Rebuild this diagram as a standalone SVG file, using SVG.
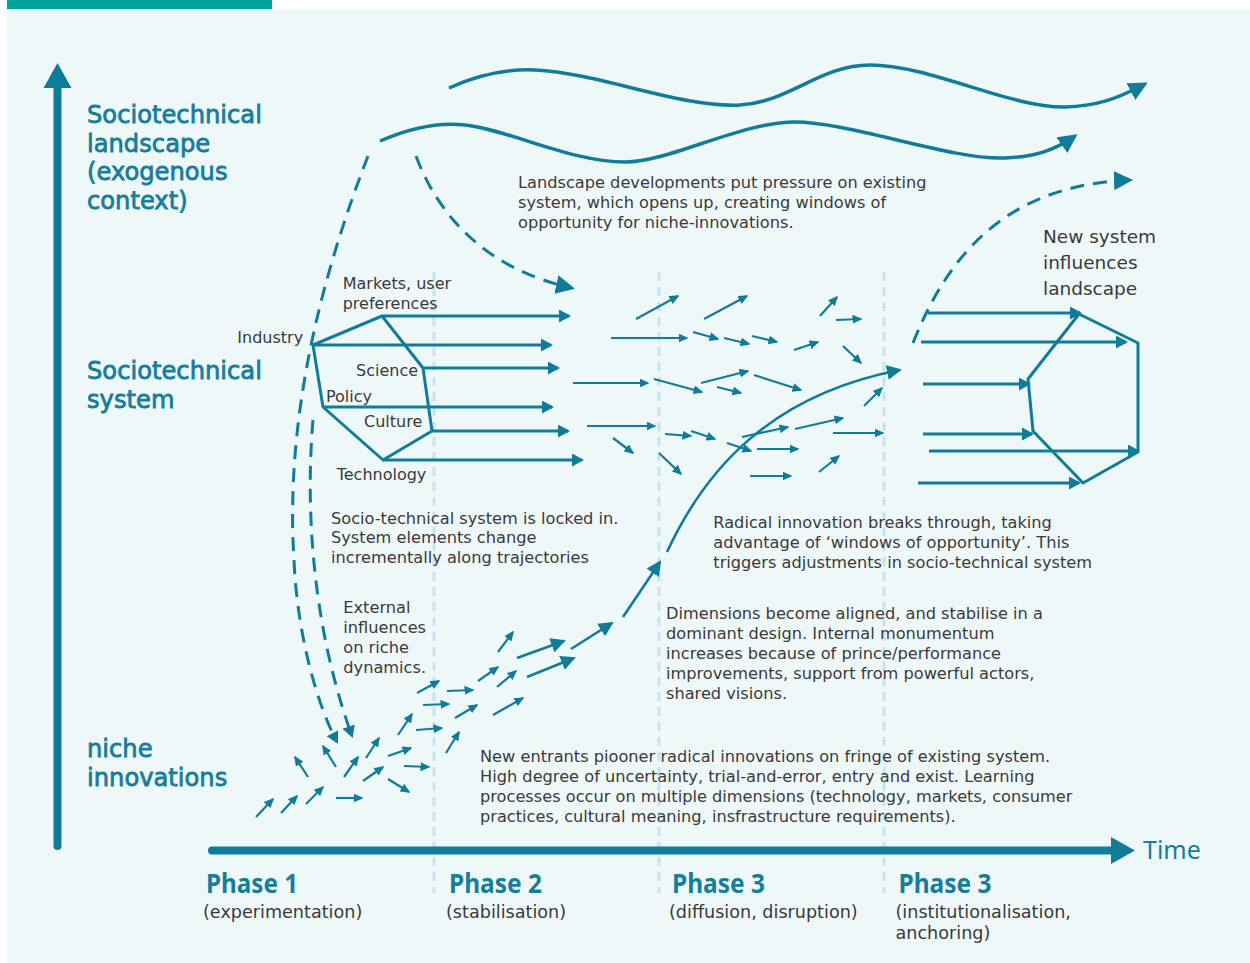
<svg xmlns="http://www.w3.org/2000/svg" width="1250" height="963" viewBox="0 0 1250 963">
<style>
.txt{font-family:"DejaVu Sans","Noto Sans",sans-serif;font-size:16.2px;fill:#3a3a3a}
.lbl{font-family:"DejaVu Sans","Noto Sans",sans-serif;font-size:16px;fill:#3a3a3a}
.big{font-family:"DejaVu Sans","Noto Sans",sans-serif;font-size:18.5px;fill:#3a3a3a}
.ttl{font-family:"DejaVu Sans","Noto Sans",sans-serif;font-size:24.2px;fill:#167d9b;stroke:#167d9b;stroke-width:0.8}
.ph{font-family:"Noto Sans","DejaVu Sans",sans-serif;font-size:27px;font-weight:bold;fill:#167d9b}
.sub{font-family:"DejaVu Sans","Noto Sans",sans-serif;font-size:17.6px;font-weight:normal;fill:#3a3a3a}
.time{font-family:"Noto Sans","DejaVu Sans",sans-serif;font-size:25px;fill:#167d9b}
.sep{stroke:#c4e4ef;stroke-width:3;stroke-dasharray:9 6;fill:none}
.ln{stroke:#107c9a;fill:none;stroke-linejoin:round}
.a{stroke-width:2.2;marker-end:url(#s)}
.aL{stroke-width:2.6;marker-end:url(#l)}
.aM{stroke-width:3;marker-end:url(#m)}
.dash{stroke-width:3;stroke-dasharray:14 9;fill:none}
.poly{stroke-width:3;fill:none}
</style>
<defs>
<marker id="s" markerUnits="userSpaceOnUse" viewBox="0 0 10 9" markerWidth="10" markerHeight="9" refX="8.5" refY="4.5" orient="auto"><path d="M0,0L10,4.5L0,9z" fill="#107c9a"/></marker>
<marker id="m" markerUnits="userSpaceOnUse" viewBox="0 0 12 13" markerWidth="12" markerHeight="13" refX="10" refY="6.5" orient="auto"><path d="M0,0L12,6.5L0,13z" fill="#107c9a"/></marker>
<marker id="l" markerUnits="userSpaceOnUse" viewBox="0 0 15 15" markerWidth="15" markerHeight="15" refX="13" refY="7.5" orient="auto"><path d="M0,0L15,7.5L0,15z" fill="#107c9a"/></marker>
<marker id="xl" markerUnits="userSpaceOnUse" viewBox="0 0 19 19" markerWidth="19" markerHeight="19" refX="16" refY="9.5" orient="auto"><path d="M0,0L19,9.5L0,19z" fill="#107c9a"/></marker>
</defs>

<rect x="0" y="0" width="1250" height="963" fill="#ffffff"/>
<rect x="7" y="9" width="1243" height="954" fill="#eff8f9"/>
<rect x="7" y="0" width="265" height="9" fill="#00a39a"/>

<g id="phase-separators">
<line class="sep" x1="434" y1="272" x2="434" y2="893"/>
<line class="sep" x1="659" y1="272" x2="659" y2="893"/>
<line class="sep" x1="884" y1="272" x2="884" y2="893"/>
</g>

<g id="axes">
<line x1="57.5" y1="846" x2="57.5" y2="86" stroke="#107c9a" stroke-width="8" stroke-linecap="round"/>
<path d="M57.5,63L71.5,88L43.5,88z" fill="#107c9a"/>
<line x1="212" y1="850.5" x2="1113" y2="850.5" stroke="#107c9a" stroke-width="8" stroke-linecap="round"/>
<path d="M1111,837L1135,850.5L1111,864z" fill="#107c9a"/>
</g>

<g id="level-landscape">
<text class="ttl"><tspan x="87" y="123">Sociotechnical</tspan><tspan x="87" y="151.5">landscape</tspan><tspan x="87" y="180">(exogenous</tspan><tspan x="87" y="208.5">context)</tspan></text>
</g>
<g id="level-system">
<text class="ttl"><tspan x="87" y="379">Sociotechnical</tspan><tspan x="87" y="407.5">system</tspan></text>
</g>
<g id="level-niche">
<text class="ttl"><tspan x="87" y="757">niche</tspan><tspan x="87" y="785.5">innovations</tspan></text>
</g>

<g id="phase-1">
<text class="ph"><tspan x="206" y="892.7" textLength="92" lengthAdjust="spacingAndGlyphs">Phase 1</tspan><tspan class="sub" x="203" y="918">(experimentation)</tspan></text>
</g>
<g id="phase-2">
<text class="ph"><tspan x="449" y="892.7" textLength="93" lengthAdjust="spacingAndGlyphs">Phase 2</tspan><tspan class="sub" x="446" y="918">(stabilisation)</tspan></text>
</g>
<g id="phase-3a">
<text class="ph"><tspan x="672" y="892.7" textLength="93" lengthAdjust="spacingAndGlyphs">Phase 3</tspan><tspan class="sub" x="669" y="918">(diffusion, disruption)</tspan></text>
</g>
<g id="phase-3b">
<text class="ph"><tspan x="898.5" y="892.7" textLength="93" lengthAdjust="spacingAndGlyphs">Phase 3</tspan><tspan class="sub" x="895.5" y="918">(institutionalisation,</tspan><tspan class="sub" x="895.5" y="938.5">anchoring)</tspan></text>
</g>
<g id="time-label">
<text class="time" x="1143" y="859">Time</text>
</g>

<g id="regime">
<path class="ln poly" d="M382,316L423,368L432,431L383,460L323,407L313,345z"/>
<text class="lbl"><tspan x="342.7" y="289.3">Markets, user</tspan><tspan x="342.7" y="308.5">preferences</tspan></text>
<text class="lbl" x="237.3" y="343.3">Industry</text>
<text class="lbl" x="356" y="375.7">Science</text>
<text class="lbl" x="326" y="401.7">Policy</text>
<text class="lbl" x="364" y="427.3">Culture</text>
<text class="lbl" x="336.7" y="480">Technology</text>
</g>

<g id="new-regime">
<path class="ln poly" d="M1079,314L1138,343L1138,452L1083,483L1033,431L1028,379z"/>
<text class="big"><tspan x="1043" y="242.7">New system</tspan><tspan x="1043" y="269">influences</tspan><tspan x="1043" y="295">landscape</tspan></text>
</g>

<g id="note-landscape">
<text class="txt"><tspan x="518" y="188.3">Landscape developments put pressure on existing</tspan><tspan x="518" y="208.3">system, which opens up, creating windows of</tspan><tspan x="518" y="228.3">opportunity for niche-innovations.</tspan></text>
</g>
<g id="note-lockin">
<text class="txt"><tspan x="331" y="523.5">Socio-technical system is locked in.</tspan><tspan x="331" y="543">System elements change</tspan><tspan x="331" y="562.7">incrementally along trajectories</tspan></text>
</g>
<g id="note-external">
<text class="txt"><tspan x="343.3" y="613.3">External</tspan><tspan x="343.3" y="633.3">influences</tspan><tspan x="343.3" y="653.3">on riche</tspan><tspan x="343.3" y="673.3">dynamics.</tspan></text>
</g>
<g id="note-breakthrough">
<text class="txt"><tspan x="713.3" y="528.3">Radical innovation breaks through, taking</tspan><tspan x="713.3" y="548.3">advantage of ‘windows of opportunity’. This</tspan><tspan x="713.3" y="568.3">triggers adjustments in socio-technical system</tspan></text>
</g>
<g id="note-aligned">
<text class="txt"><tspan x="666" y="619">Dimensions become aligned, and stabilise in a</tspan><tspan x="666" y="639">dominant design. Internal monumentum</tspan><tspan x="666" y="659">increases because of prince/performance</tspan><tspan x="666" y="679">improvements, support from powerful actors,</tspan><tspan x="666" y="699">shared visions.</tspan></text>
</g>
<g id="note-entrants">
<text class="txt"><tspan x="480" y="762">New entrants piooner radical innovations on fringe of existing system.</tspan><tspan x="480" y="782">High degree of uncertainty, trial-and-error, entry and exist. Learning</tspan><tspan x="480" y="802">processes occur on multiple dimensions (technology, markets, consumer</tspan><tspan x="480" y="822">practices, cultural meaning, insfrastructure requirements).</tspan></text>
</g>

<g id="connectors" class="ln">
<path stroke-width="3.5" marker-end="url(#xl)" d="M449,88C480,74 510,69 535,70C600,73 680,108 740,105C790,102 820,65 870,65C930,65 1010,108 1065,107C1095,106 1115,100 1145,84"/>
<path stroke-width="3.5" marker-end="url(#xl)" d="M380,141C410,128 440,122 465,125C510,130 570,162 625,162C670,162 740,122 795,122C850,122 950,160 1005,158C1035,157 1055,150 1075,136"/>
<path class="dash" marker-end="url(#xl)" d="M416,156C440,220 490,270 572,288"/>
<path class="dash" marker-end="url(#xl)" d="M913,343C950,250 1010,185 1130,180"/>
<path class="dash" marker-end="url(#m)" d="M368,156C320,280 285,420 294,560C297,630 315,700 337,742"/>
<path class="dash" marker-end="url(#m)" d="M313,420C306,500 310,620 352,736"/>
<line class="aM" x1="382" y1="316" x2="569" y2="316"/>
<line class="aM" x1="313" y1="345" x2="551" y2="345"/>
<line class="aM" x1="423" y1="368" x2="558" y2="368"/>
<line class="aM" x1="323" y1="407" x2="552" y2="407"/>
<line class="aM" x1="432" y1="431" x2="568" y2="431"/>
<line class="aM" x1="383" y1="460" x2="582" y2="460"/>
<line class="aM" x1="928" y1="313" x2="1080" y2="313"/>
<line class="aM" x1="921" y1="342" x2="1126" y2="342"/>
<line class="aM" x1="923" y1="384" x2="1029" y2="384"/>
<line class="aM" x1="923" y1="434" x2="1032" y2="434"/>
<line class="aM" x1="929" y1="451" x2="1138" y2="451"/>
<line class="aM" x1="918" y1="483" x2="1079" y2="483"/>
<line class="a" x1="636" y1="319" x2="678" y2="296"/>
<line class="a" x1="704" y1="319" x2="747" y2="296"/>
<line class="a" x1="820" y1="316" x2="837" y2="297"/>
<line class="a" x1="836" y1="320" x2="861" y2="319"/>
<line class="a" x1="611" y1="338" x2="687" y2="338"/>
<line class="a" x1="693" y1="332" x2="718" y2="339"/>
<line class="a" x1="724" y1="338" x2="749" y2="344"/>
<line class="a" x1="752" y1="336" x2="777" y2="342"/>
<line class="a" x1="794" y1="350" x2="818" y2="342"/>
<line class="a" x1="843" y1="346" x2="861" y2="363"/>
<line class="a" x1="573" y1="383" x2="648" y2="383"/>
<line class="a" x1="654" y1="379" x2="702" y2="392"/>
<line class="a" x1="701" y1="383" x2="748" y2="371"/>
<line class="a" x1="717" y1="387" x2="741" y2="393"/>
<line class="a" x1="754" y1="375" x2="801" y2="390"/>
<line class="a" x1="864" y1="406" x2="882" y2="388"/>
<line class="a" x1="587" y1="426" x2="655" y2="426"/>
<line class="a" x1="613" y1="438" x2="633" y2="453"/>
<line class="a" x1="665" y1="434" x2="691" y2="436"/>
<line class="a" x1="691" y1="431" x2="715" y2="439"/>
<line class="a" x1="742" y1="437" x2="788" y2="427"/>
<line class="a" x1="795" y1="429" x2="843" y2="418"/>
<line class="a" x1="833" y1="433" x2="883" y2="433"/>
<line class="a" x1="659" y1="453" x2="681" y2="474"/>
<line class="a" x1="727" y1="443" x2="751" y2="451"/>
<line class="a" x1="757" y1="449" x2="798" y2="449"/>
<line class="a" x1="750" y1="476" x2="791" y2="476"/>
<line class="a" x1="819" y1="472" x2="839" y2="456"/>
<path class="aL" stroke-width="3" d="M667,552C705,470 770,395 900,370"/>
<line class="aL" x1="623" y1="617" x2="660" y2="562"/>
<line class="aL" x1="571" y1="649" x2="612" y2="623"/>
<line class="aL" x1="527" y1="677" x2="574" y2="658"/>
<line class="aL" x1="517" y1="658" x2="564" y2="641"/>
<line class="a" x1="256" y1="817" x2="273" y2="799"/>
<line class="a" x1="281" y1="813" x2="297" y2="796"/>
<line class="a" x1="306" y1="804" x2="323" y2="787"/>
<line class="a" x1="336" y1="798" x2="362" y2="798"/>
<line class="a" x1="308" y1="777" x2="295" y2="757"/>
<line class="a" x1="336" y1="767" x2="323" y2="746"/>
<line class="a" x1="344" y1="777" x2="358" y2="757"/>
<line class="a" x1="363" y1="781" x2="383" y2="767"/>
<line class="a" x1="388" y1="779" x2="409" y2="792"/>
<line class="a" x1="366" y1="758" x2="379" y2="738"/>
<line class="a" x1="388" y1="756" x2="411" y2="748"/>
<line class="a" x1="404" y1="766" x2="429" y2="767"/>
<line class="a" x1="398" y1="735" x2="412" y2="714"/>
<line class="a" x1="416" y1="730" x2="442" y2="728"/>
<line class="a" x1="423" y1="705" x2="449" y2="704"/>
<line class="a" x1="417" y1="693" x2="439" y2="681"/>
<line class="a" x1="446" y1="753" x2="459" y2="732"/>
<line class="a" x1="455" y1="718" x2="477" y2="705"/>
<line class="a" x1="447" y1="691" x2="473" y2="690"/>
<line class="a" x1="478" y1="681" x2="498" y2="667"/>
<line class="a" x1="493" y1="715" x2="523" y2="698"/>
<line class="a" x1="497" y1="687" x2="516" y2="671"/>
<line class="a" x1="498" y1="652" x2="513" y2="632"/>
</g>
</svg>
